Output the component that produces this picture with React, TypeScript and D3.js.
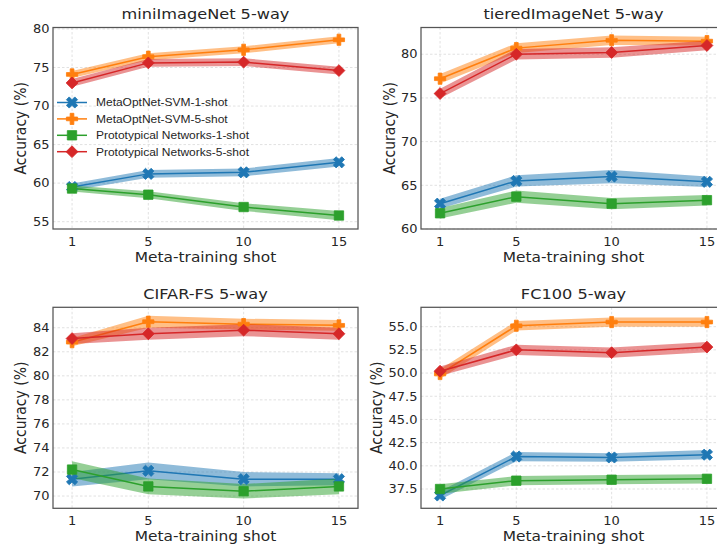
import React from "react";
import * as d3 from "d3";

const shots = [1, 5, 10, 15];
const seriesLabels = [
  "MetaOptNet-SVM-1-shot",
  "MetaOptNet-SVM-5-shot",
  "Prototypical Networks-1-shot",
  "Prototypical Networks-5-shot",
];
const seriesColors = ["#1f77b4", "#ff7f0e", "#2ca02c", "#d62728"];
const seriesMarkers = ["x", "plus", "square", "diamond"];

// rows: svm-1, svm-5, proto-1, proto-5
const miniMean = [
  [59.5, 61.2, 61.4, 62.7],
  [74.1, 76.4, 77.3, 78.6],
  [59.3, 58.5, 56.9, 55.8],
  [73.0, 75.6, 75.7, 74.6],
];
const miniCi = [
  [0.45, 0.5, 0.5, 0.55],
  [0.45, 0.45, 0.45, 0.45],
  [0.4, 0.45, 0.5, 0.6],
  [0.5, 0.5, 0.5, 0.5],
];
const tieredMean = [
  [62.9, 65.5, 66.0, 65.4],
  [77.2, 80.7, 81.6, 81.5],
  [61.8, 63.7, 62.9, 63.3],
  [75.5, 80.0, 80.2, 81.0],
];
const tieredCi = [
  [0.55, 0.65, 0.75, 0.6],
  [0.55, 0.55, 0.55, 0.5],
  [0.6, 0.7, 0.65, 0.6],
  [0.55, 0.6, 0.6, 0.55],
];
const cifarMean = [
  [71.4, 72.1, 71.4, 71.4],
  [82.8, 84.5, 84.3, 84.2],
  [72.2, 70.8, 70.4, 70.8],
  [83.1, 83.5, 83.8, 83.5],
];
const cifarCi = [
  [0.6, 0.7, 0.6, 0.5],
  [0.35, 0.5, 0.45, 0.45],
  [0.7, 0.65, 0.6, 0.65],
  [0.45, 0.5, 0.5, 0.5],
];
const fc100Mean = [
  [36.8, 41.0, 40.9, 41.2],
  [49.9, 55.1, 55.5, 55.5],
  [37.5, 38.4, 38.5, 38.6],
  [50.2, 52.5, 52.2, 52.8],
];
const fc100Ci = [
  [0.45, 0.5, 0.45, 0.5],
  [0.5, 0.5, 0.5, 0.5],
  [0.5, 0.5, 0.5, 0.5],
  [0.5, 0.55, 0.55, 0.55],
];

const panelTitles = ["miniImageNet 5-way", "tieredImageNet 5-way", "CIFAR-FS 5-way", "FC100 5-way"];
const panelYTicks = [
  [55, 60, 65, 70, 75, 80],
  [60, 65, 70, 75, 80],
  [70, 72, 74, 76, 78, 80, 82, 84],
  [37.5, 40, 42.5, 45, 47.5, 50, 52.5, 55],
];
const panelYLim = [
  [54.05, 80.19],
  [60, 83.06],
  [68.98, 85.7],
  [35.42, 57.09],
];
const xLim = [0, 16];

const W = 717;
const H = 549;
const SX = 1.1; // source figure is slightly stretched horizontally
const font = "DejaVu Sans, sans-serif";
const textColor = "#262626";

const boxes = [
  { x: 53, y: 27.5, w: 305, h: 201.5, labelOff: 27 },
  { x: 421, y: 27.5, w: 305, h: 201.5, labelOff: 26 },
  { x: 53, y: 307.3, w: 305, h: 201, labelOff: 27 },
  { x: 421, y: 307.3, w: 305, h: 201, labelOff: 39 },
];

function Txt({ x, y, size, anchor = "middle", rotate = 0, fam = font, dy, children }: any) {
  return (
    <text
      transform={`translate(${x},${y}) scale(${SX},1)${rotate ? ` rotate(${rotate})` : ""}`}
      fontSize={size}
      fontFamily={fam}
      textAnchor={anchor}
      fill={textColor}
      dy={dy}
    >
      {children}
    </text>
  );
}

function markerPath(kind: string) {
  if (kind === "x") return d3.symbol(d3.symbolCross, 78)()!;
  if (kind === "plus") return d3.symbol(d3.symbolCross, 70)()!;
  if (kind === "square") return d3.symbol(d3.symbolSquare, 88)()!;
  return d3.symbol(d3.symbolSquare, 70)()!;
}
function markerRot(kind: string) {
  return kind === "x" || kind === "diamond" ? 45 : 0;
}

function Marker({ x, y, i }: { x: number; y: number; i: number }) {
  const k = seriesMarkers[i];
  return (
    <path
      d={markerPath(k)}
      transform={`translate(${x},${y}) rotate(${markerRot(k)})`}
      fill={seriesColors[i]}
      stroke={seriesColors[i]}
      strokeWidth={0.8}
    />
  );
}

function Panel({ idx, means, cis }: { idx: number; means: number[][]; cis: number[][] }) {
  const b = boxes[idx];
  const x = d3.scaleLinear().domain(xLim).range([b.x, b.x + b.w]);
  const y = d3.scaleLinear().domain(panelYLim[idx]).range([b.y + b.h, b.y]);
  const yTicks = panelYTicks[idx];
  const fmt = idx === 3 ? d3.format(".1f") : d3.format("d");
  const line = d3
    .line<number>()
    .x((_, j) => x(shots[j]))
    .y((d) => y(d));
  const clipId = `clip${idx}`;

  return (
    <g>
      <clipPath id={clipId}>
        <rect x={b.x} y={b.y} width={b.w} height={b.h} />
      </clipPath>
      {yTicks.map((t) => (
        <line
          key={"gy" + t}
          x1={b.x}
          x2={b.x + b.w}
          y1={y(t)}
          y2={y(t)}
          stroke="#d9d9d9"
          strokeWidth={0.8}
          strokeDasharray="2.5,2"
        />
      ))}
      {shots.map((t) => (
        <line
          key={"gx" + t}
          x1={x(t)}
          x2={x(t)}
          y1={b.y}
          y2={b.y + b.h}
          stroke="#d9d9d9"
          strokeWidth={0.8}
          strokeDasharray="2.5,2"
        />
      ))}
      <g clipPath={`url(#${clipId})`}>
        {means.map((m, i) => {
          const area = d3
            .area<number>()
            .x((_, j) => x(shots[j]))
            .y0((d, j) => y(d - cis[i][j]))
            .y1((d, j) => y(d + cis[i][j]));
          return (
            <g key={i}>
              <path d={area(m)!} fill={seriesColors[i]} fillOpacity={0.5} stroke="none" />
              <path d={line(m)!} fill="none" stroke={seriesColors[i]} strokeWidth={1.5} />
            </g>
          );
        })}
      </g>
      {means.map((m, i) =>
        m.map((v, j) => <Marker key={i + "-" + j} x={x(shots[j])} y={y(v)} i={i} />)
      )}
      <rect x={b.x} y={b.y} width={b.w} height={b.h} fill="none" stroke="#555" strokeWidth={1.25} />
      {yTicks.map((t) => (
        <Txt key={"ty" + t} x={b.x - 3.5} y={y(t)} size={11.8} anchor="end" dy="0.36em">
          {fmt(t)}
        </Txt>
      ))}
      {shots.map((t) => (
        <Txt key={"tx" + t} x={x(t)} y={b.y + b.h + 16.5} size={11.8}>
          {t}
        </Txt>
      ))}
      <Txt x={b.x + b.w / 2} y={b.y + b.h + 32.5} size={14}>
        Meta-training shot
      </Txt>
      <Txt x={b.x - b.labelOff} y={b.y + b.h / 2} size={14} rotate={-90}>
        Accuracy (%)
      </Txt>
      <Txt x={b.x + b.w / 2} y={b.y - 8.5} size={14.7}>
        {panelTitles[idx]}
      </Txt>
    </g>
  );
}

function Legend() {
  const x0 = 57;
  const y0 = 102.5;
  return (
    <g>
      {seriesLabels.map((s, i) => (
        <g key={s}>
          <line x1={x0} x2={x0 + 30} y1={y0 + i * 16.4} y2={y0 + i * 16.4} stroke={seriesColors[i]} strokeWidth={1.5} />
          <Marker x={x0 + 15} y={y0 + i * 16.4} i={i} />
          <Txt x={96} y={y0 + i * 16.4} size={10.9} anchor="start" dy="0.36em" fam="Liberation Sans, Arial, sans-serif">
            {s}
          </Txt>
        </g>
      ))}
    </g>
  );
}

export default function App() {
  return (
    <svg
      width={W}
      height={H}
      style={{ position: "absolute", left: 0, top: 0, background: "#fff" }}
    >
      <rect width={W} height={H} fill="#fff" />
      <Panel idx={0} means={miniMean} cis={miniCi} />
      <Panel idx={1} means={tieredMean} cis={tieredCi} />
      <Panel idx={2} means={cifarMean} cis={cifarCi} />
      <Panel idx={3} means={fc100Mean} cis={fc100Ci} />
      <Legend />
    </svg>
  );
}
